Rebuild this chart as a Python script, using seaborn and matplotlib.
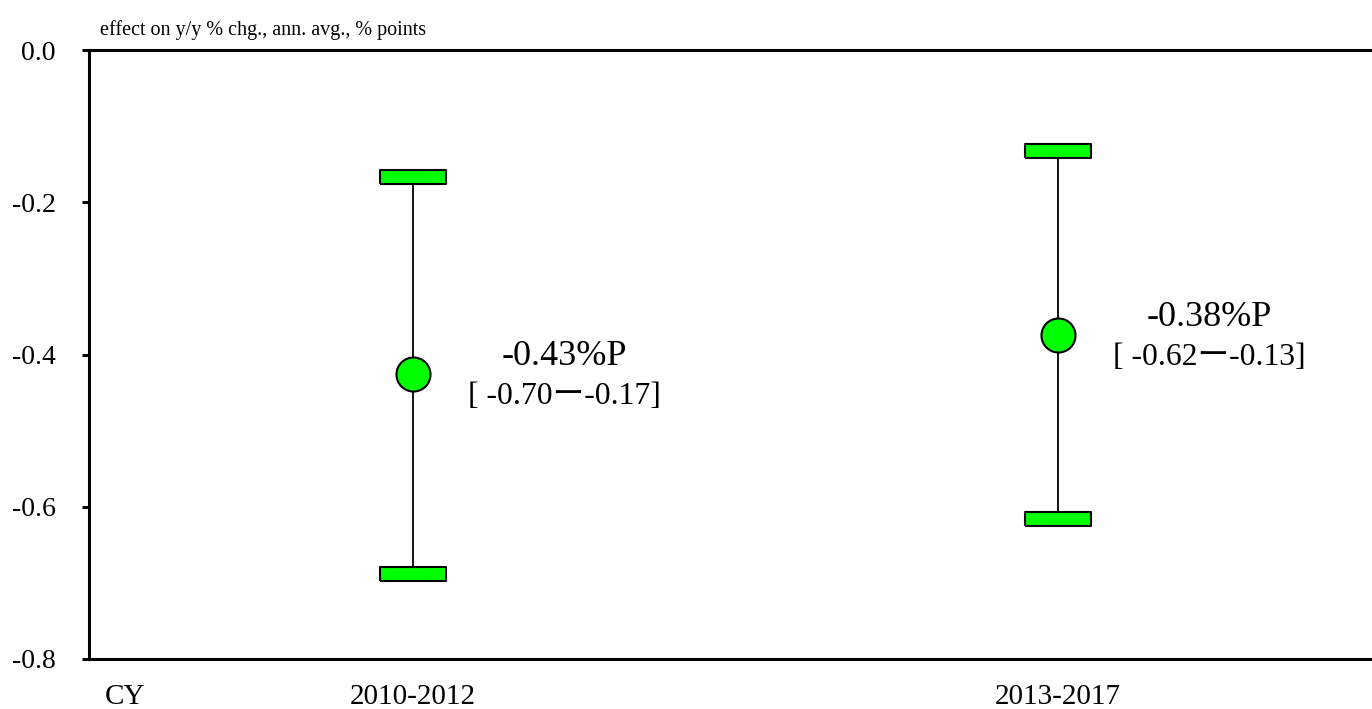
import matplotlib.pyplot as plt
import pandas as pd
import seaborn as sns

# values (% points)
periods = ["2010-2012", "2013-2017"]
effect = [-0.426, -0.375]
lower = [-0.688, -0.616]
upper = [-0.167, -0.133]
effect_labels = ["-0.43%P", "-0.38%P"]
range_labels = ["[ -0.70ー-0.17]", "[ -0.62ー-0.13]"]
y_ticks = [0.0, -0.2, -0.4, -0.6, -0.8]
y_tick_labels = ["0.0", "-0.2", "-0.4", "-0.6", "-0.8"]

GREEN = "#00ff00"

df = pd.DataFrame(
    {
        "period": periods,
        "pos": range(len(periods)),
        "effect": effect,
        "lower": lower,
        "upper": upper,
    }
)
caps = pd.concat(
    [
        df[["pos", "lower"]].rename(columns={"lower": "value"}),
        df[["pos", "upper"]].rename(columns={"upper": "value"}),
    ]
)

sns.set_style("ticks")
plt.rcParams["font.family"] = ["Liberation Serif", "Noto Sans CJK JP"]
plt.rcParams["text.color"] = "black"

W, H = 1372, 709
fig = plt.figure(figsize=(W / 100, H / 100), dpi=100)
ax = fig.add_axes([89 / W, 1 - 659 / H, 1 - 89 / W, (659 - 50) / H])

# whiskers
ax.vlines(df["pos"], df["lower"], df["upper"], color="black", linewidth=1.3, zorder=1)

# rectangular caps
cap_marker = [(-2.5, -0.5), (2.5, -0.5), (2.5, 0.5), (-2.5, 0.5), (-2.5, -0.5)]
sns.scatterplot(
    data=caps, x="pos", y="value", marker=cap_marker, s=47**2,
    color=GREEN, edgecolor="black", linewidth=1.5, zorder=2, ax=ax, legend=False,
)

# point estimates
sns.scatterplot(
    data=df, x="pos", y="effect", marker="o", s=600,
    color=GREEN, edgecolor="black", linewidth=1.5, zorder=3, ax=ax, legend=False,
)

for i, row in df.iterrows():
    ax.annotate(effect_labels[i], xy=(row["pos"], row["effect"]), xytext=(109, 13),
                textcoords="offset points", ha="center", va="center", fontsize=26,
                color="black")
    ax.annotate(range_labels[i], xy=(row["pos"], row["effect"]), xytext=(109, -16),
                textcoords="offset points", ha="center", va="center", fontsize=22.8,
                color="black")

ax.set_xlim(-0.502, 1.487)
ax.set_ylim(-0.8, 0.0)
ax.set_yticks(y_ticks)
ax.set_yticklabels(y_tick_labels)
ax.set_xticks(df["pos"])
ax.set_xticklabels(periods)
ax.set_xlabel("")
ax.set_ylabel("")

ax.spines["right"].set_visible(False)
for side in ["top", "left", "bottom"]:
    ax.spines[side].set_linewidth(2.2)
    ax.spines[side].set_color("black")

ax.tick_params(axis="y", length=5, width=2.2, pad=19, labelsize=20, colors="black")
ax.tick_params(axis="x", length=0, pad=18, labelsize=21, colors="black")

ax.annotate("CY", xy=((125 - 89) / (W - 89), 0), xycoords="axes fraction",
            xytext=(0, -18), textcoords="offset points", ha="center", va="top",
            fontsize=21, color="black")

fig.text(100 / W, 1 - 30 / H, "effect on y/y % chg., ann. avg., % points",
         ha="left", va="center", fontsize=14.5, color="black")

fig.savefig("out.png", dpi=100)
